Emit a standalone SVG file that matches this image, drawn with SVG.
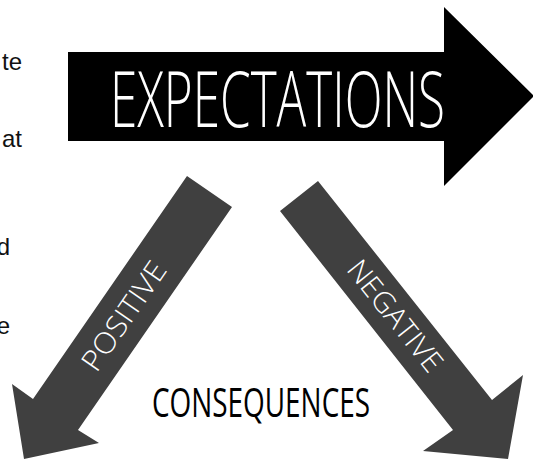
<svg xmlns="http://www.w3.org/2000/svg" width="533" height="460" viewBox="0 0 533 460">
  <style>
    .side { font-family: "Liberation Sans", Arial, sans-serif; font-size: 24px; fill: #111; }
    .thin { font-family: "Open Sans", "DejaVu Sans", sans-serif; font-weight: 300; }
    .arrow { fill: #404040; }
  </style>
  <rect width="533" height="460" fill="#fff"/>
  <g id="side-text">
    <text class="side" x="22" y="70" text-anchor="end">te</text>
    <text class="side" x="22" y="147" text-anchor="end">at</text>
    <text class="side" x="10" y="255" text-anchor="end">d</text>
    <text class="side" x="10" y="334" text-anchor="end">e</text>
  </g>
  <g id="expectations">
    <polygon points="68,52 444,52 444,7 534,96 444,186 444,141 68,141" fill="#000"/>
    <text class="thin" x="110" y="127" font-size="77" fill="#fff" textLength="335" lengthAdjust="spacingAndGlyphs">EXPECTATIONS</text>
  </g>
  <g id="connectors">
    <g id="positive">
      <polygon class="arrow" points="187,176 232,207 78,430 99,443 24,459 12,384 33,399"/>
      <g transform="translate(124,316) rotate(-55.4)">
        <text class="thin" x="0" y="10" font-size="29" fill="#fff" text-anchor="middle" textLength="126" lengthAdjust="spacingAndGlyphs">POSITIVE</text>
      </g>
    </g>
    <g id="negative">
      <polygon class="arrow" points="318,181 492,400 523,375 508,459 423,451 453,430 280,211"/>
      <g transform="translate(395,316) rotate(51.5)">
        <text class="thin" x="0" y="10" font-size="29" fill="#fff" text-anchor="middle" textLength="134" lengthAdjust="spacingAndGlyphs">NEGATIVE</text>
      </g>
    </g>
  </g>
  <g id="consequences">
    <text x="152" y="417" font-family="'Open Sans', 'DejaVu Sans', sans-serif" font-size="41" fill="#000" textLength="218" lengthAdjust="spacingAndGlyphs">CONSEQUENCES</text>
  </g>
</svg>
